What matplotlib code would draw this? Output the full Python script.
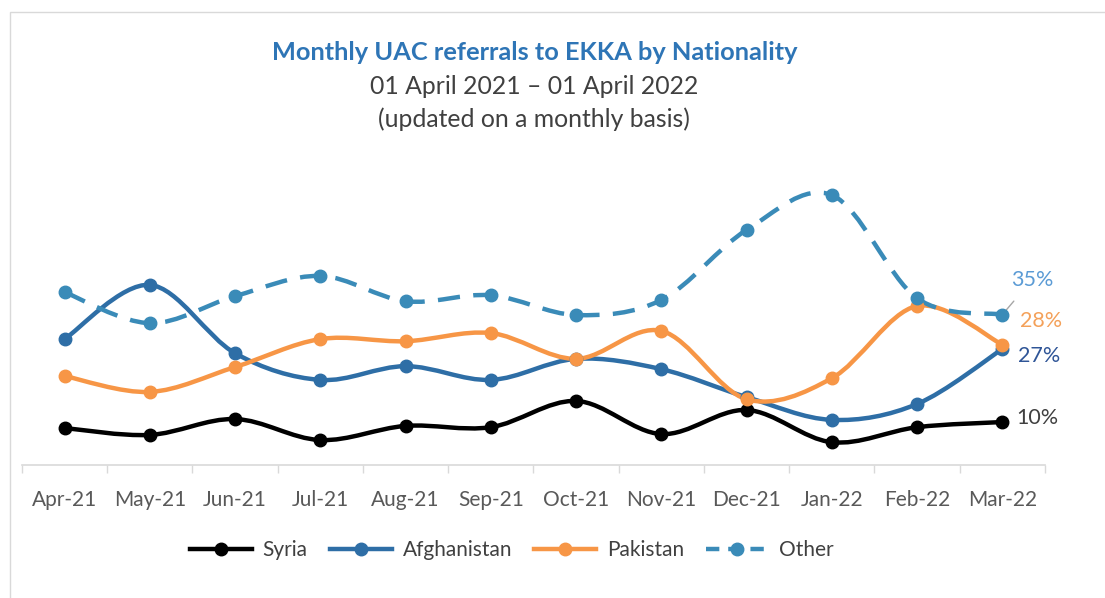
import numpy as np
import matplotlib
matplotlib.use("Agg")
import matplotlib.pyplot as plt
from matplotlib.path import Path
from matplotlib.patches import PathPatch, Rectangle
from matplotlib.lines import Line2D

plt.rcParams['font.family'] = ['Lato', 'DejaVu Sans']

months = ["Apr-21", "May-21", "Jun-21", "Jul-21", "Aug-21", "Sep-21",
          "Oct-21", "Nov-21", "Dec-21", "Jan-22", "Feb-22", "Mar-22"]

# share of monthly referrals (%)
syria = [8.6, 7.0, 10.7, 5.8, 9.1, 8.8, 14.9, 7.2, 12.8, 5.3, 8.8, 10]
afghanistan = [29.3, 41.9, 26.0, 19.8, 23.0, 19.8, 24.7, 22.3, 15.8, 10.5, 14.2, 27]
pakistan = [20.7, 17.0, 22.8, 29.3, 28.8, 30.7, 24.7, 31.2, 15.3, 20.2, 37.0, 28]
other = [40.2, 33.0, 39.3, 44.0, 38.1, 39.5, 34.9, 38.4, 54.7, 62.8, 38.8, 35]

names = ["Syria", "Afghanistan", "Pakistan", "Other"]
colors = ["#000000", "#2e6ea6", "#f79646", "#3a8bb8"]
label_colors = ["#404040", "#2f5597", "#f4a15a", "#5b9bd5"]
dash = (0, (5, 3))


def smooth_path(x, y):
    """Excel-style smoothed line as cubic bezier segments"""
    x = np.asarray(x, float)
    y = np.asarray(y, float)
    n = len(x)
    verts = [(x[0], y[0])]
    codes = [Path.MOVETO]
    for i in range(n - 1):
        p0 = max(i - 1, 0)
        p3 = min(i + 2, n - 1)
        c1 = (x[i] + (x[i + 1] - x[p0]) / 6, y[i] + (y[i + 1] - y[p0]) / 6)
        c2 = (x[i + 1] - (x[p3] - x[i]) / 6, y[i + 1] - (y[p3] - y[i]) / 6)
        verts += [c1, c2, (x[i + 1], y[i + 1])]
        codes += [Path.CURVE4] * 3
    return Path(verts, codes)


fig = plt.figure(figsize=(11.05, 5.98), dpi=100)
fig.patches.append(Rectangle((0.009, -0.01), 1.0, 0.99, transform=fig.transFigure,
                             fill=False, edgecolor="#d9d9d9", linewidth=1))

ax = fig.add_axes([0.0199, 0.2224, 0.9258, 0.5268])
x = np.arange(len(months))

for vals, name, col in zip([syria, afghanistan, pakistan, other], names, colors):
    ls = dash if name == "Other" else "-"
    ax.add_patch(PathPatch(smooth_path(x, vals), fill=False, edgecolor=col,
                           linewidth=3.2, linestyle=ls, capstyle="butt", zorder=3))
    ax.plot(x, vals, linestyle="none", marker="o", markersize=9, color=col, zorder=4)

# end labels
ax.annotate(f"{other[-1]:.0f}%", (x[-1], other[-1]), xytext=(6, 25), textcoords="offset points",
            color=label_colors[3], fontsize=15.5, ha="left", va="center",
            arrowprops=dict(arrowstyle="-", color="#a6a6a6", lw=1, shrinkA=8, shrinkB=3))
ax.annotate(f"{pakistan[-1]:.0f}%", (x[-1], pakistan[-1]), xytext=(13, 17), textcoords="offset points",
            color=label_colors[2], fontsize=15.5, ha="left", va="center")
ax.annotate(f"{afghanistan[-1]:.0f}%", (x[-1], afghanistan[-1]), xytext=(11, -5), textcoords="offset points",
            color=label_colors[1], fontsize=15.5, ha="left", va="center")
ax.annotate(f"{syria[-1]:.0f}%", (x[-1], syria[-1]), xytext=(10, 3), textcoords="offset points",
            color=label_colors[0], fontsize=15.5, ha="left", va="center")

ax.set_xlim(-0.5, len(months) - 0.5)
ax.set_ylim(0, 73.3)
ax.set_xticks(x)
ax.set_xticklabels(months, fontsize=15, color="#595959")
ax.set_xticks(np.arange(-0.5, len(months)), minor=True)
ax.tick_params(axis="x", which="major", length=0, pad=18)
ax.tick_params(axis="x", which="minor", length=6, color="#d9d9d9", width=1)
ax.set_yticks([])
for s in ["left", "right", "top"]:
    ax.spines[s].set_visible(False)
ax.spines["bottom"].set_color("#d9d9d9")
ax.spines["bottom"].set_linewidth(1.2)

fig.text(0.484, 0.912, "Monthly UAC referrals to EKKA by Nationality", ha="center", va="center",
         fontsize=18.3, fontweight="bold", color="#2e75b6")
fig.text(0.483, 0.855, "01 April 2021 \u2013 01 April 2022", ha="center", va="center",
         fontsize=17.8, color="#404040")
fig.text(0.483, 0.801, "(updated on a monthly basis)", ha="center", va="center",
         fontsize=17.8, color="#404040")

handles = [Line2D([], [], color=c, lw=3.2, marker="o", markersize=9,
                  linestyle=(0, (3, 2)) if n == "Other" else "-")
           for n, c in zip(names, colors)]
fig.legend(handles, names, loc="center", bbox_to_anchor=(0.463, 0.080), ncol=4, frameon=False,
           fontsize=15, labelcolor="#404040", handlelength=3.0, columnspacing=1.05, handletextpad=0.5)

plt.savefig("out.png", dpi=100)
